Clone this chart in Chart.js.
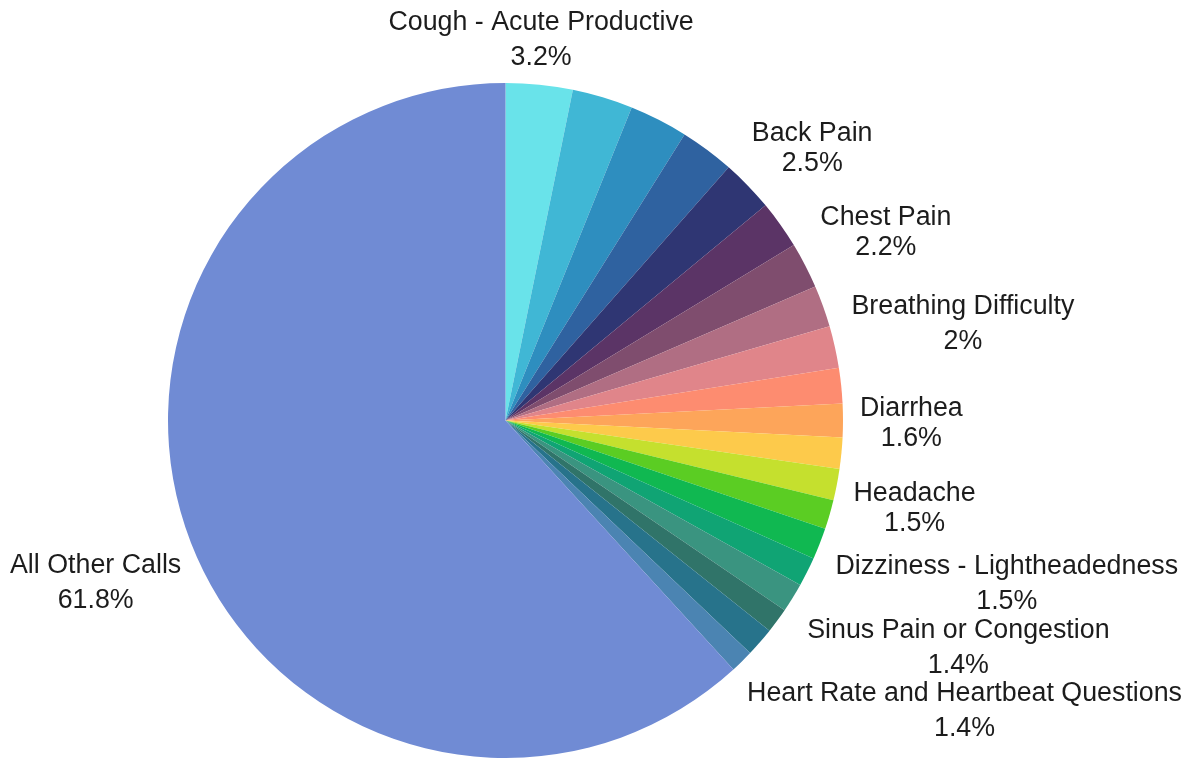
<!DOCTYPE html>
<html>
<head>
<meta charset="utf-8">
<script src="https://cdn.jsdelivr.net/npm/chart.js@4"></script>
<style>
  html, body { margin: 0; padding: 0; background: #ffffff; }
  #wrap { width: 1191px; height: 758px; position: relative; }
</style>
</head>
<body>
<div id="wrap"><canvas id="c" width="1191" height="758"></canvas></div>
<script>
// ---- data (percent of calls), clockwise from 12 o'clock ----
const categories = [
  "Cough - Acute Productive", "", "", "", "Back Pain", "", "Chest Pain", "",
  "Breathing Difficulty", "", "Diarrhea", "", "Headache", "", "Dizziness - Lightheadedness",
  "", "Sinus Pain or Congestion", "", "Heart Rate and Heartbeat Questions", "",
  "All Other Calls"
];
const values = [
  3.2, 2.9, 2.8, 2.6, 2.5, 2.3, 2.2, 2.0, 2.0, 1.7,
  1.6, 1.5, 1.5, 1.4, 1.5, 1.4, 1.4, 1.2, 1.4, 1.1,
  61.8
];
const colors = [
  "#69e3ea", "#40b7d5", "#2e8ebf", "#2f62a0", "#2f3673", "#5b3466", "#7f4d6e",
  "#b06e83", "#e0858a", "#fd8c70", "#fda55a", "#fdca4b", "#c5e02e", "#5bcd23",
  "#10b851", "#10a474", "#3a9480", "#307469", "#27738b", "#4b84b2", "#708bd4"
];

const FONT_SIZE = 26.8;
const FONT = FONT_SIZE + 'px "Liberation Sans", Arial, sans-serif';
const EDGE_MARGIN = 9;

function fmtPct(v) { return String(v) + '%'; }

const outLabels = {
  id: 'outLabels',
  afterDatasetsDraw(chart) {
    const ctx = chart.ctx;
    const meta = chart.getDatasetMeta(0);
    ctx.save();
    ctx.font = FONT;
    ctx.fillStyle = '#1c1c1c';
    ctx.textAlign = 'center';
    ctx.textBaseline = 'middle';
    const boxes = [];
    meta.data.forEach((arc, i) => {
      if (!categories[i]) return;
      const p = arc.getProps(['x', 'y', 'startAngle', 'endAngle', 'outerRadius'], true);
      const mid = (p.startAngle + p.endAngle) / 2;
      const c = Math.cos(mid), s = Math.sin(mid);
      const R = p.outerRadius + 17;
      const px = p.x + c * R, py = p.y + s * R + 3;
      const lines = [categories[i], fmtPct(values[i])];
      const w = Math.max(...lines.map(l => ctx.measureText(l).width));
      const gap = w < 150 ? 30 : 35;
      const h = gap * (lines.length - 1) + FONT_SIZE;
      const ax = Math.sign(c) * Math.max(0, Math.min(1, (Math.abs(c) - 0.2) / 0.6));
      const ay = Math.max(-1, Math.min(1, s / 0.3));
      let cx = px + ax * w / 2;
      let cy = py + ay * h / 2;
      // keep labels inside the canvas
      cx = Math.min(cx, chart.width - EDGE_MARGIN - w / 2);
      cx = Math.max(cx, EDGE_MARGIN + 1 + w / 2);
      // simple overlap avoidance: push down below previous labels
      for (const b of boxes) {
        const overlapX = Math.abs(cx - b.cx) < (w + b.w) / 2;
        const overlapY = Math.abs(cy - b.cy) < (h + b.h) / 2 + 2;
        if (overlapX && overlapY && cy >= b.cy) {
          cy = b.cy + (h + b.h) / 2 + 2;
        }
      }
      boxes.push({ cx, cy, w, h });
      const top = cy - gap * (lines.length - 1) / 2;
      lines.forEach((l, k) => ctx.fillText(l, cx, top + k * gap));
    });
    ctx.restore();
  }
};

new Chart(document.getElementById('c'), {
  type: 'pie',
  data: {
    labels: categories,
    datasets: [{
      data: values,
      backgroundColor: colors,
      borderWidth: 0
    }]
  },
  options: {
    responsive: false,
    animation: false,
    devicePixelRatio: 1,
    layout: { padding: { top: 83, bottom: 0, left: 168, right: 348 } },
    plugins: {
      legend: { display: false },
      tooltip: { enabled: false }
    }
  },
  plugins: [outLabels]
});
</script>
</body>
</html>
